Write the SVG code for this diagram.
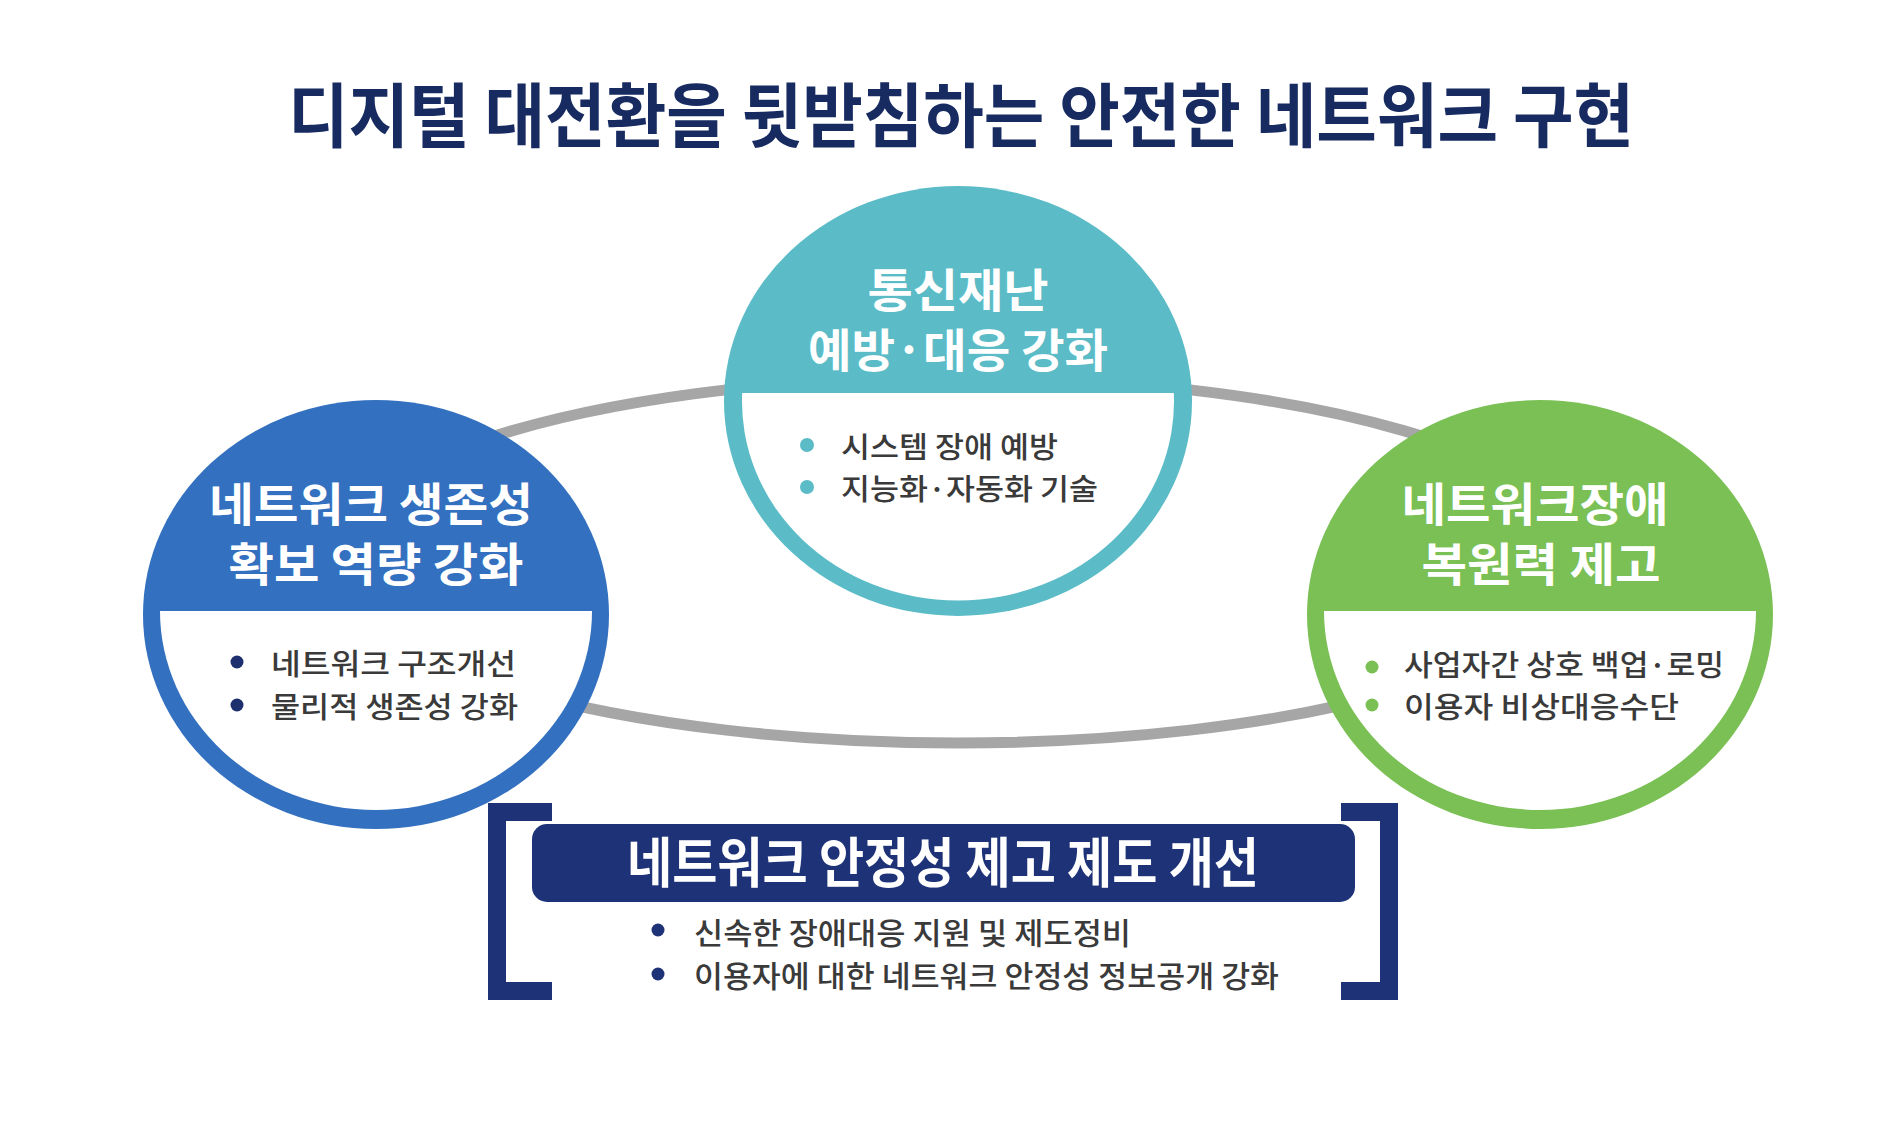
<svg xmlns="http://www.w3.org/2000/svg" width="1894" height="1128" viewBox="0 0 1894 1128">
<style>
.ff{font-family:"Noto Sans CJK KR","Noto Sans",sans-serif}
.title{font-weight:700;font-size:70px;fill:#172b61}
.head{font-weight:700;font-size:46px;fill:#ffffff}
.item{font-weight:500;font-size:29px;fill:#3a3a3a}
.item2{font-weight:500;font-size:30px;fill:#3a3a3a}
.boxhead{font-weight:700;font-size:54px;fill:#ffffff}
.inner{fill:#ffffff}
.link{fill:none;stroke:#a6a6a6;stroke-width:11}
.navy{fill:#1d3277}
</style>
<rect width="1894" height="1128" fill="#ffffff"/>
<text class="ff title" x="961" y="142" text-anchor="middle" textLength="1346" lengthAdjust="spacingAndGlyphs">디지털 대전환을 뒷받침하는 안전한 네트워크 구현</text>
<g id="connectors">
<ellipse class="link" cx="958" cy="560" rx="630" ry="183"/>
</g>
<g id="node-prevention">
<ellipse cx="958" cy="401" rx="234" ry="215" fill="#5bbcc7"/>
<path class="inner" d="M742.2 393 L1173.8 393 A216 199 0 1 1 742.2 393 Z"/>
<text class="ff head" x="958" y="307" text-anchor="middle" textLength="181" lengthAdjust="spacingAndGlyphs">통신재난</text>
<text class="ff head" x="958" y="367" text-anchor="middle" textLength="300" lengthAdjust="spacingAndGlyphs">예방·대응 강화</text>
<circle cx="807" cy="445" r="7" fill="#5bbcc7"/>
<circle cx="807" cy="487" r="7" fill="#5bbcc7"/>
<text class="ff item" x="841" y="458" textLength="217" lengthAdjust="spacingAndGlyphs">시스템 장애 예방</text>
<text class="ff item" x="841" y="500" textLength="257" lengthAdjust="spacingAndGlyphs">지능화·자동화 기술</text>
</g>
<g id="node-survivability">
<ellipse cx="376" cy="614.5" rx="233" ry="214.5" fill="#3370bf"/>
<path class="inner" d="M160 611 L592 611 A216 199 0 1 1 160 611 Z"/>
<text class="ff head" x="371" y="521" text-anchor="middle" textLength="324" lengthAdjust="spacingAndGlyphs">네트워크 생존성</text>
<text class="ff head" x="376" y="581" text-anchor="middle" textLength="295" lengthAdjust="spacingAndGlyphs">확보 역량 강화</text>
<circle cx="237" cy="662" r="6.5" fill="#1d2f6f"/>
<circle cx="237" cy="705" r="6.5" fill="#1d2f6f"/>
<text class="ff item" x="271" y="675" textLength="245" lengthAdjust="spacingAndGlyphs">네트워크 구조개선</text>
<text class="ff item" x="271" y="718" textLength="247" lengthAdjust="spacingAndGlyphs">물리적 생존성 강화</text>
</g>
<g id="node-recovery">
<ellipse cx="1540" cy="614.5" rx="233" ry="214.5" fill="#7ac055"/>
<path class="inner" d="M1324 611 L1756 611 A216 199 0 1 1 1324 611 Z"/>
<text class="ff head" x="1535" y="521" text-anchor="middle" textLength="267" lengthAdjust="spacingAndGlyphs">네트워크장애</text>
<text class="ff head" x="1541" y="581" text-anchor="middle" textLength="239" lengthAdjust="spacingAndGlyphs">복원력 제고</text>
<circle cx="1372" cy="667" r="6.5" fill="#7ac055"/>
<circle cx="1372" cy="705" r="6.5" fill="#7ac055"/>
<text class="ff item" x="1404" y="676" textLength="320" lengthAdjust="spacingAndGlyphs">사업자간 상호 백업·로밍</text>
<text class="ff item" x="1404" y="718" textLength="275" lengthAdjust="spacingAndGlyphs">이용자 비상대응수단</text>
</g>
<g id="node-institution">
<path class="navy" d="M488 803 H552 V821 H506 V982 H552 V1000 H488 Z"/>
<path class="navy" d="M1398 803 H1341 V821 H1380 V982 H1341 V1000 H1398 Z"/>
<rect x="532" y="824" width="823" height="78" rx="15" ry="15" class="navy"/>
<text class="ff boxhead" x="943" y="883" text-anchor="middle" textLength="632" lengthAdjust="spacingAndGlyphs">네트워크 안정성 제고 제도 개선</text>
<circle cx="658" cy="930" r="6.5" fill="#1d3277"/>
<circle cx="658" cy="974" r="6.5" fill="#1d3277"/>
<text class="ff item2" x="694" y="944" textLength="437" lengthAdjust="spacingAndGlyphs">신속한 장애대응 지원 및 제도정비</text>
<text class="ff item2" x="694" y="987" textLength="585" lengthAdjust="spacingAndGlyphs">이용자에 대한 네트워크 안정성 정보공개 강화</text>
</g>
</svg>
